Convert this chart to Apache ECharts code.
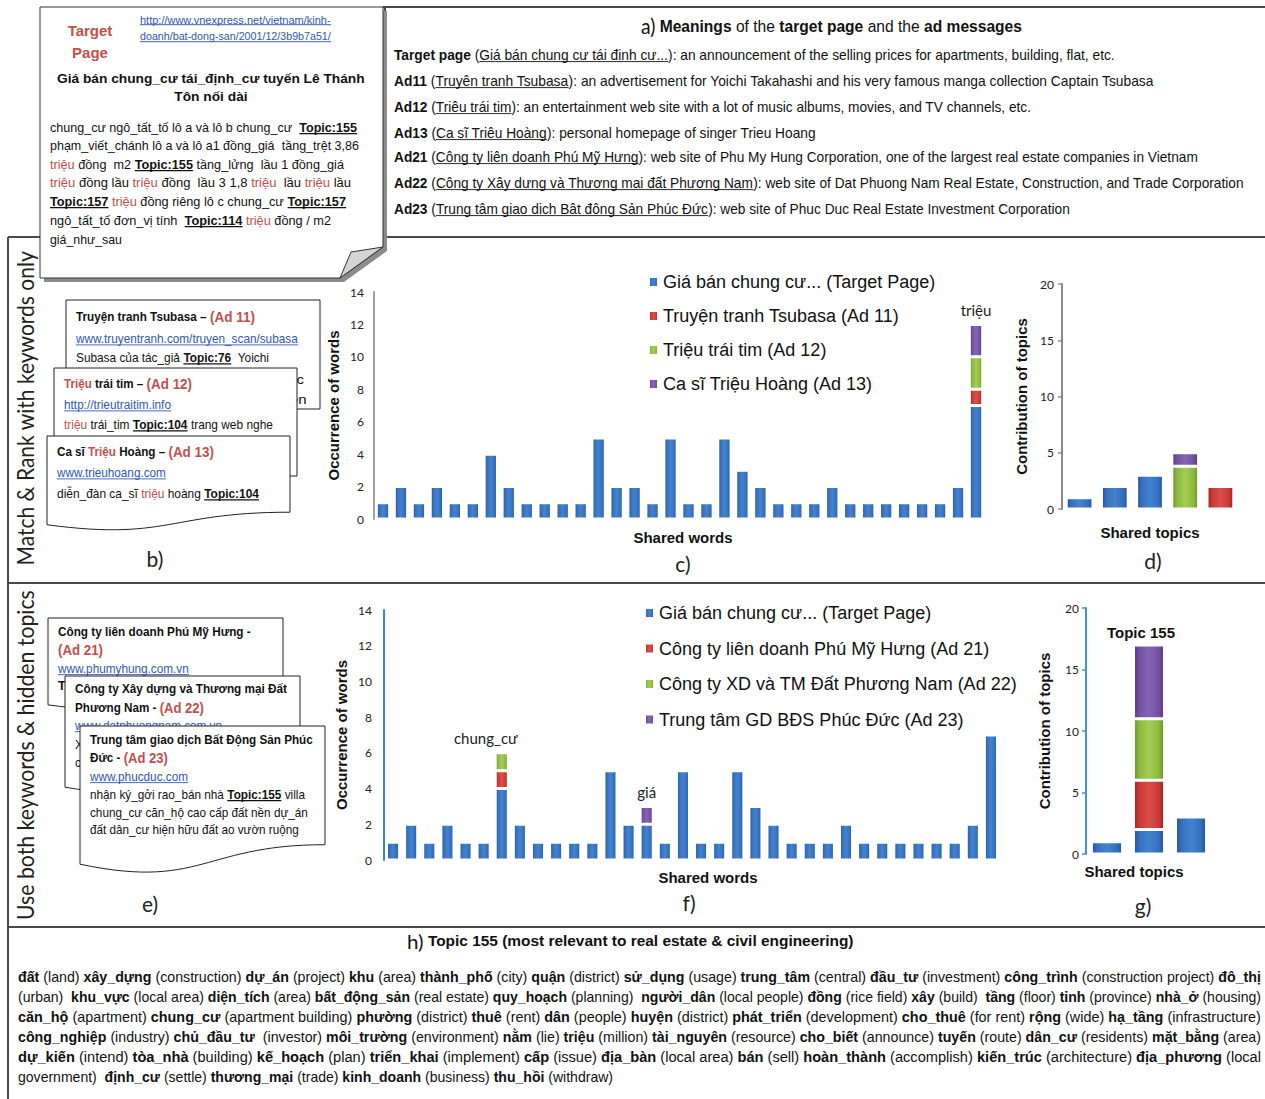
<!DOCTYPE html>
<html><head><meta charset="utf-8">
<script src="https://cdn.jsdelivr.net/npm/echarts@6/dist/echarts.min.js"></script>
<style>html,body{margin:0;padding:0;background:#fff}#c{width:1265px;height:1099px}</style>
</head><body><div id="c"></div>
<script>
// ---------------- DATA ----------------
const sharedWords = ['w01','w02','w03','w04','w05','w06','chung_cư','w08','w09','w10','w11','w12','w13','w14','giá','w16','w17','w18','w19','w20','w21','w22','w23','w24','w25','w26','w27','w28','w29','w30','w31','w32','w33','triệu'];
const targetWordCounts = [1,2,1,2,1,1,4,2,1,1,1,1,5,2,2,1,5,1,1,5,3,2,1,1,1,2,1,1,1,1,1,1,2,7];
const ad11Words = {'triệu': 1};
const ad12Words = {'triệu': 2};
const ad13Words = {'triệu': 2};
const ad21Words = {'chung_cư': 1};
const ad22Words = {'chung_cư': 1};
const ad23Words = {'giá': 1};

const topicsD = ['T1','T2','T3','Topic 104','Topic 76'];
const targetTopicsD = [1,2,3,'-','-'];
const ad11TopicsD = ['-','-','-','-',2];
const ad12TopicsD = ['-','-','-',3.8,'-'];
const ad13TopicsD = ['-','-','-',1.2,'-'];

const topicsG = ['T1','Topic 155','T3'];
const targetTopicsG = [1,2,3];
const ad21TopicsG = ['-',4,'-'];
const ad22TopicsG = ['-',5,'-'];
const ad23TopicsG = ['-',6,'-'];

const namesC = ['Giá bán chung cư... (Target Page)','Truyện tranh Tsubasa (Ad 11)','Triệu trái tim (Ad 12)','Ca sĩ Triệu Hoàng (Ad 13)'];
const namesF = ['Giá bán chung cư... (Target Page)','Công ty liên doanh Phú Mỹ Hưng (Ad 21)','Công ty XD và TM Đất Phương Nam (Ad 22)','Trung tâm GD BĐS Phúc Đức (Ad 23)'];
const wordTicks = [0,2,4,6,8,10,12,14];
const topicTicks = [0,5,10,15,20];

// ---------------- HELPERS ----------------
const FA = '"Liberation Sans", Arial, sans-serif';
const FC = 'Lato, "Open Sans", sans-serif';
const RED = '#C0504D';
const LINK = '#3057B5';
const mctx = document.createElement('canvas').getContext('2d');
function tw(t, size, weight, fam) { mctx.font = weight + ' ' + size + 'px ' + fam; return mctx.measureText(t).width; }
const els = [];
function L(x1,y1,x2,y2,w,c){ els.push({type:'line', silent:true, shape:{x1,y1,x2,y2}, style:{stroke:c||'#4a4a4a', lineWidth:w||2}}); }
function poly(points, fill, stroke, lw){ els.push({type:'polygon', silent:true, shape:{points}, style:{fill, stroke:stroke||null, lineWidth:lw||1}}); }
function docPts(x,y,w,h){
  const pts=[[x,y],[x+w,y],[x+w,y+0.802*h]];
  const p0=[x+w,y+0.802*h], c1=[x+w/2,y+0.802*h], c2=[x+w/2,y+1.107*h], p3=[x,y+0.934*h];
  for(let i=1;i<=30;i++){const t=i/30,u=1-t;
    pts.push([u*u*u*p0[0]+3*u*u*t*c1[0]+3*u*t*t*c2[0]+t*t*t*p3[0], u*u*u*p0[1]+3*u*u*t*c1[1]+3*u*t*t*c2[1]+t*t*t*p3[1]]);}
  return pts;
}
function rectPts(x,y,w,h){ return [[x,y],[x+w,y],[x+w,y+h],[x,y+h]]; }
function txt(runs, o) {
  runs = runs.map(r => typeof r === 'string' ? {t:r} : r);
  const size = o.size || 12, fam = o.fam || FA;
  let cx = 0; const kids = [];
  for (const r of runs) {
    const rs = r.s || size, rf = r.f || fam, rw = r.b ? 'bold' : 'normal', col = r.c || o.color || '#111';
    const w = tw(r.t, rs, rw, rf);
    const re = /\S+(?: \S+)*/g; let m;
    while ((m = re.exec(r.t)) !== null) {
      const off = tw(r.t.slice(0, m.index), rs, rw, rf);
      kids.push({type:'text', silent:true, x: cx + off, y: 0,
        style:{text:m[0], fontSize:rs, fontFamily:rf, fontWeight:rw, fill:col,
               align:'left', verticalAlign:'middle', textAlign:'left', textVerticalAlign:'middle'}});
    }
    if (r.u) kids.push({type:'line', silent:true, shape:{x1:cx, y1:rs*0.47, x2:cx+w, y2:rs*0.47}, style:{stroke:col, lineWidth:r.b?1.3:0.9}});
    cx += w;
  }
  const sc = o.end != null ? (o.end - o.x) / cx : (o.w ? o.w / cx : (o.scale || 1));
  const shift = o.align === 'center' ? -cx/2 : 0;
  if (shift) kids.forEach(k => { if (k.type==='text') k.x += shift; else { k.shape.x1 += shift; k.shape.x2 += shift; } });
  els.push({type:'group', x:o.x, y:o.y, rotation:o.rot||0, scaleX:sc, children:kids});
  return sc;
}
const B = t => ({t, b:1});
const BU = t => ({t, b:1, u:1});
const R = t => ({t, c:RED});
const BR = (t, s) => ({t, b:1, c:RED, s});
const U = t => ({t, u:1});
const LK = t => ({t, c:LINK, u:1});

// ---------------- FRAMES ----------------
L(383,7,1265,7); L(385,7,385,237); L(8,237,1265,237); L(8,237,8,1099);
L(8,583,1265,583); L(8,927,1265,927);

// ---------------- NOTE (target page) ----------------
poly([[44,11],[387,11],[387,251],[344,282],[44,282]], '#8c8c8c');
poly([[40,7],[383,7],[383,247],[340,278],[40,278]], '#fff', '#333', 1);
poly([[340,278],[351,252],[383,247]], '#d4d4d4', '#333', 1);
txt([{t:'Target', b:1, c:RED}], {x:90, y:30, size:15, align:'center'});
txt([{t:'Page', b:1, c:RED}], {x:90, y:52, size:15, align:'center'});
txt([LK('http://www.vnexpress.net/vietnam/kinh-')], {x:140, y:20, size:10, end:331});
txt([LK('doanh/bat-dong-san/2001/12/3b9b7a51/')], {x:140, y:37, size:10, end:331});
const ts = txt([B('Giá bán chung_cư tái_định_cư tuyến Lê Thánh')], {x:211, y:79, size:13.5, align:'center', w:308});
txt([B('Tôn nối dài')], {x:211, y:97, size:13.5, align:'center', scale:ts});
txt(['chung_cư ngô_tất_tố lô a và lô b chung_cư  ', BU('Topic:155')], {x:50, y:128, size:12, end:357});
txt(['phạm_viết_chánh lô a và lô a1 đồng_giá  tầng_trệt 3,86'], {x:50, y:146, size:12, end:359});
txt([R('triệu'), ' đồng  m2 ', BU('Topic:155'), ' tầng_lửng  lầu 1 đồng_giá'], {x:50, y:165, size:12, end:344});
txt([R('triệu'), ' đồng lầu ', R('triệu'), ' đồng  lầu 3 1,8 ', R('triệu'), '  lầu ', R('triệu'), ' lầu'], {x:50, y:183, size:12, end:351});
txt([BU('Topic:157'), ' ', R('triệu'), ' đồng riêng lô c chung_cư ', BU('Topic:157')], {x:50, y:202, size:12, end:346});
txt(['ngô_tất_tố đơn_vị tính  ', BU('Topic:114'), ' ', R('triệu'), ' đồng / m2'], {x:50, y:221, size:12, end:331});
txt(['giá_như_sau'], {x:50, y:240, size:12, end:122});

// ---------------- a) MEANINGS ----------------
txt([{t:'a)', f:FC, s:21}, ' ', B('Meanings'), ' of the ', B('target page'), ' and the ', B('ad messages')], {x:641, y:26, size:17, end:1022});
txt([B('Target page'), ' (', U('Giá bán chung cư tái đinh cư...'), '): an announcement of the selling prices for apartments, building, flat, etc.'], {x:394, y:55, size:14, end:1115});
txt([B('Ad11'), ' (', U('Truyên tranh Tsubasa'), '): an advertisement for Yoichi Takahashi and his very famous manga collection Captain Tsubasa'], {x:394, y:81, size:14, end:1155});
txt([B('Ad12'), ' (', U('Triêu trái tim'), '): an entertainment web site with a lot of music albums, movies, and TV channels, etc.'], {x:394, y:107, size:14, end:1032});
txt([B('Ad13'), ' (', U('Ca sĩ Triêu Hoàng'), '): personal homepage of singer Trieu Hoang'], {x:394, y:133, size:14, end:816});
txt([B('Ad21'), ' (', U('Công ty liên doanh Phú Mỹ Hưng'), '): web site of Phu My Hung Corporation, one of the largest real estate companies in Vietnam'], {x:394, y:157, size:14, end:1198});
txt([B('Ad22'), ' (', U('Công ty Xây dưng và Thương mai đất Phương Nam'), '): web site of Dat Phuong Nam Real Estate, Construction, and Trade Corporation'], {x:394, y:183, size:14, end:1244});
txt([B('Ad23'), ' (', U('Trung tâm giao dich Bât đông Sản Phúc Đức'), '): web site of Phuc Duc Real Estate Investment Corporation'], {x:394, y:209, size:14, end:1070});

// ---------------- b) CARDS ----------------
poly(rectPts(66,300,254,109), '#fff', '#222', 1);
txt([B('Truyện tranh Tsubasa – '), BR('(Ad 11)', 15)], {x:76, y:317, size:13, end:255});
txt([LK('www.truyentranh.com/truyen_scan/subasa')], {x:76, y:339, size:12.5, end:298});
txt(['Subasa của tác_giả ', BU('Topic:76'), '  Yoichi'], {x:76, y:358, size:12.5, end:269});
txt(['Takahashi tác phẩm c'], {x:160, y:380, size:12.5, end:304});
txt(['truyện tranh nổi tiếng truyện'], {x:120, y:399, size:12.5, end:307});
poly(rectPts(54,368,243,108), '#fff', '#222', 1);
txt([{t:'Triệu', b:1, c:RED}, B(' trái tim – '), BR('(Ad 12)', 15)], {x:64, y:384, size:13, end:192});
txt([LK('http://trieutraitim.info')], {x:64, y:405, size:12.5, end:171});
txt([R('triệu'), ' trái_tim ', BU('Topic:104'), ' trang web nghe'], {x:64, y:425, size:12.5, end:273});
poly(docPts(47,436,243,95), '#fff', '#222', 1);
txt([B('Ca sĩ '), {t:'Triệu', b:1, c:RED}, B(' Hoàng – '), BR('(Ad 13)', 15)], {x:57, y:452, size:13, end:214});
txt([LK('www.trieuhoang.com')], {x:57, y:473, size:12.5, end:166});
txt(['diễn_đàn ca_sĩ ', R('triệu'), ' hoàng ', BU('Topic:104')], {x:57, y:494, size:12.5, end:259});

// ---------------- e) CARDS ----------------
poly(docPts(48,618,235,93), '#fff', '#222', 1);
txt([B('Công ty liên doanh Phú Mỹ Hưng -')], {x:58, y:632, size:12.5, end:251});
txt([BR('(Ad 21)', 14)], {x:58, y:650, size:12.5, end:103});
txt([LK('www.phumyhung.com.vn')], {x:58, y:669, size:12, end:189});
txt([B('T')], {x:58, y:686, size:12.5});
poly(docPts(65,676,235,119), '#fff', '#222', 1);
txt([B('Công ty Xây dựng và Thương mại Đất')], {x:75, y:689, size:12.5, end:287});
txt([B('Phương Nam - '), BR('(Ad 22)', 14)], {x:75, y:708, size:12.5, end:204});
txt([LK('www.datphuongnam.com.vn')], {x:75, y:726, size:12, end:222});
txt(['X'], {x:75, y:745, size:12});
txt(['c'], {x:75, y:763, size:12});
poly(docPts(80,726,245,148), '#fff', '#222', 1);
txt([B('Trung tâm giao dịch Bất Động Sản Phúc')], {x:90, y:740, size:12.5, end:313});
txt([B('Đức - '), BR('(Ad 23)', 14)], {x:90, y:758, size:12.5, end:168});
txt([LK('www.phucduc.com')], {x:90, y:777, size:12, end:188});
txt(['nhận ký_gởi rao_bán nhà ', BU('Topic:155'), ' villa'], {x:90, y:795, size:12, end:305});
txt(['chung_cư căn_hộ cao cấp đất nền dự_án'], {x:90, y:813, size:12, end:308});
txt(['đất dân_cư hiện hữu đất ao vườn ruộng'], {x:90, y:830, size:12, end:299});

// ---------------- SECTION LABELS ----------------
txt(['Match & Rank with keywords only'], {x:25, y:408, size:23, fam:FC, align:'center', w:315, rot:Math.PI/2, color:'#222'});
txt(['Use both keywords & hidden topics'], {x:25, y:755, size:23, fam:FC, align:'center', w:330, rot:Math.PI/2, color:'#222'});
[['b)',155,558],['c)',683,563],['d)',1153,560],['e)',150,903],['f)',689,902],['g)',1143,905]].forEach(a =>
  txt([a[0]], {x:a[1], y:a[2], size:21, fam:FC, align:'center', color:'#222'}));

// ---------------- h) TOPIC 155 ----------------
txt([{t:'h)', f:FC, s:20}, ' ', B('Topic 155 (most relevant to real estate & civil engineering)')], {x:407, y:941, size:15, end:854});
const hs = 14;
txt([B('đất'),' (land) ',B('xây_dựng'),' (construction) ',B('dự_án'),' (project) ',B('khu'),' (area) ',B('thành_phố'),' (city) ',B('quận'),' (district) ',B('sử_dụng'),' (usage) ',B('trung_tâm'),' (central) ',B('đầu_tư'),' (investment) ',B('công_trình'),' (construction project) ',B('đô_thị')], {x:18, y:977, size:hs, end:1261});
txt(['(urban)  ',B('khu_vực'),' (local area) ',B('diện_tích'),' (area) ',B('bất_động_sản'),' (real estate) ',B('quy_hoạch'),' (planning)  ',B('người_dân'),' (local people) ',B('đồng'),' (rice field) ',B('xây'),' (build)  ',B('tầng'),' (floor) ',B('tỉnh'),' (province) ',B('nhà_ở'),' (housing)'], {x:18, y:997, size:hs, end:1261});
txt([B('căn_hộ'),' (apartment) ',B('chung_cư'),' (apartment building) ',B('phường'),' (district) ',B('thuê'),' (rent) ',B('dân'),' (people) ',B('huyện'),' (district) ',B('phát_triển'),' (development) ',B('cho_thuê'),' (for rent) ',B('rộng'),' (wide) ',B('hạ_tầng'),' (infrastructure)'], {x:18, y:1017, size:hs, end:1261});
txt([B('công_nghiệp'),' (industry) ',B('chủ_đầu_tư'),'  (investor) ',B('môi_trường'),' (environment) ',B('nằm'),' (lie) ',B('triệu'),' (million) ',B('tài_nguyên'),' (resource) ',B('cho_biết'),' (announce) ',B('tuyến'),' (route) ',B('dân_cư'),' (residents) ',B('mặt_bằng'),' (area)'], {x:18, y:1037, size:hs, end:1261});
txt([B('dự_kiến'),' (intend) ',B('tòa_nhà'),' (building) ',B('kế_hoạch'),' (plan) ',B('triển_khai'),' (implement) ',B('cấp'),' (issue) ',B('địa_bàn'),' (local area) ',B('bán'),' (sell) ',B('hoàn_thành'),' (accomplish) ',B('kiến_trúc'),' (architecture) ',B('địa_phương'),' (local'], {x:18, y:1057, size:hs, end:1261});
txt(['government)  ',B('định_cư'),' (settle) ',B('thương_mại'),' (trade) ',B('kinh_doanh'),' (business) ',B('thu_hồi'),' (withdraw)'], {x:18, y:1077, size:hs, end:613});

// ---------------- CHART ----------------
function g3(dark, mid, light) {
  return {type:'linear', x:0, y:0, x2:1, y2:0, colorStops:[
    {offset:0, color:dark},{offset:0.18, color:mid},{offset:0.5, color:light},{offset:0.82, color:mid},{offset:1, color:dark}]};
}
const BLUE = g3('#25559A','#3570BE','#4482D0');
const REDC = g3('#9B2623','#C93A36','#DB4E49');
const GREEN = g3('#6A9428','#8DBB3D','#A3CE55');
const PURPLE = g3('#553A82','#7452A3','#8465B3');

function fromMap(m, cats) { return cats.map(c => (m[c] !== undefined ? m[c] : '-')); }
function bar(name, data, gi, color, bw, label) {
  const s = {type:'bar', name, data, xAxisIndex:gi, yAxisIndex:gi, stack:'s'+gi, barWidth:bw,
    itemStyle:{color, borderColor:'#ffffff', borderWidth:1.5}, emphasis:{disabled:true}};
  if (label) s.label = label;
  return s;
}
const wordLabel = {show:true, position:'top', distance:7, formatter:'{b}', fontSize:15, fontFamily:FC, color:'#222'};
const wordLabelLeft = Object.assign({}, wordLabel, {offset:[-16,0]});
const topicLabel = {show:true, position:'top', distance:5, formatter:'{b}', fontSize:15, fontWeight:'bold', fontFamily:FA, color:'#111', offset:[-8,0]};

const nameStyle = {fontWeight:'bold', fontSize:15, fontFamily:FA, color:'#111'};
function xAx(gi, data, name, gap, pad) {
  return {gridIndex:gi, type:'category', data, axisLine:{show:false}, axisTick:{show:false}, axisLabel:{show:false},
    name, nameLocation:'middle', nameGap:gap, nameTextStyle:Object.assign({padding:pad}, nameStyle)};
}
function yAx(gi, ticks, name, gap, lineCol, showTick, margin) {
  return {gridIndex:gi, type:'value', min:ticks[0], max:ticks[ticks.length-1], interval:ticks[1]-ticks[0],
    axisLine:{show:true, lineStyle:{color:lineCol, width:2}},
    axisTick:{show:showTick, length:4, lineStyle:{color:lineCol, width:1.5}},
    splitLine:{show:false},
    axisLabel:{fontSize:12, fontFamily:FC, color:'#222', margin},
    name, nameLocation:'middle', nameRotate:90, nameGap:gap, nameTextStyle:nameStyle};
}

const option = {
  animation:false,
  backgroundColor:'#fff',
  grid:[
    {left:374, top:292, width:611, height:227, outerBoundsMode:'none'},
    {left:1062, top:284, width:176, height:225, outerBoundsMode:'none'},
    {left:384, top:610, width:616, height:250, outerBoundsMode:'none'},
    {left:1086, top:608, width:126, height:246, outerBoundsMode:'none'}
  ],
  xAxis:[
    xAx(0, sharedWords, 'Shared words', 11, [0,0,0,7]),
    xAx(1, topicsD, 'Shared topics', 16, 0),
    xAx(2, sharedWords, 'Shared words', 10, [0,0,0,32]),
    xAx(3, topicsG, 'Shared topics', 10, [0,30,0,0])
  ],
  yAxis:[
    yAx(0, wordTicks, 'Occurrence of words', 33, '#a0a0a0', false, 10),
    yAx(1, topicTicks, 'Contribution of topics', 33, '#8a8a8a', true, 8),
    yAx(2, wordTicks, 'Occurrence of words', 35, '#3f7fc9', false, 12),
    yAx(3, topicTicks, 'Contribution of topics', 34, '#4a90d9', true, 7)
  ],
  legend:[
    {orient:'vertical', left:643, top:268, itemGap:16, itemWidth:9, itemHeight:10, icon:'rect',
     textStyle:{fontSize:18, fontFamily:FA, color:'#111'}, data:namesC, selectedMode:false},
    {orient:'vertical', left:639, top:599, itemGap:17.5, itemWidth:9, itemHeight:10, icon:'rect',
     textStyle:{fontSize:18, fontFamily:FA, color:'#111'}, data:namesF, selectedMode:false}
  ],
  series:[
    bar(namesC[0], targetWordCounts, 0, BLUE, '74%'),
    bar(namesC[1], fromMap(ad11Words, sharedWords), 0, REDC, '74%'),
    bar(namesC[2], fromMap(ad12Words, sharedWords), 0, GREEN, '74%'),
    bar(namesC[3], fromMap(ad13Words, sharedWords), 0, PURPLE, '74%', wordLabel),

    bar(namesC[0], targetTopicsD, 1, BLUE, '76%'),
    bar(namesC[1], ad11TopicsD, 1, REDC, '76%'),
    bar(namesC[2], ad12TopicsD, 1, GREEN, '76%'),
    bar(namesC[3], ad13TopicsD, 1, PURPLE, '76%'),

    bar(namesF[0], targetWordCounts, 2, BLUE, '72%'),
    bar(namesF[1], fromMap(ad21Words, sharedWords), 2, REDC, '72%'),
    bar(namesF[2], fromMap(ad22Words, sharedWords), 2, GREEN, '72%', wordLabelLeft),
    bar(namesF[3], fromMap(ad23Words, sharedWords), 2, PURPLE, '72%', wordLabel),

    bar(namesF[0], targetTopicsG, 3, BLUE, '74%'),
    bar(namesF[1], ad21TopicsG, 3, REDC, '74%'),
    bar(namesF[2], ad22TopicsG, 3, GREEN, '74%'),
    bar(namesF[3], ad23TopicsG, 3, PURPLE, '74%', topicLabel)
  ],
  graphic:{elements:els}
};
const chart = echarts.init(document.getElementById('c'), null, {renderer:'svg', width:1265, height:1099});
chart.setOption(option);
</script>
</body></html>
